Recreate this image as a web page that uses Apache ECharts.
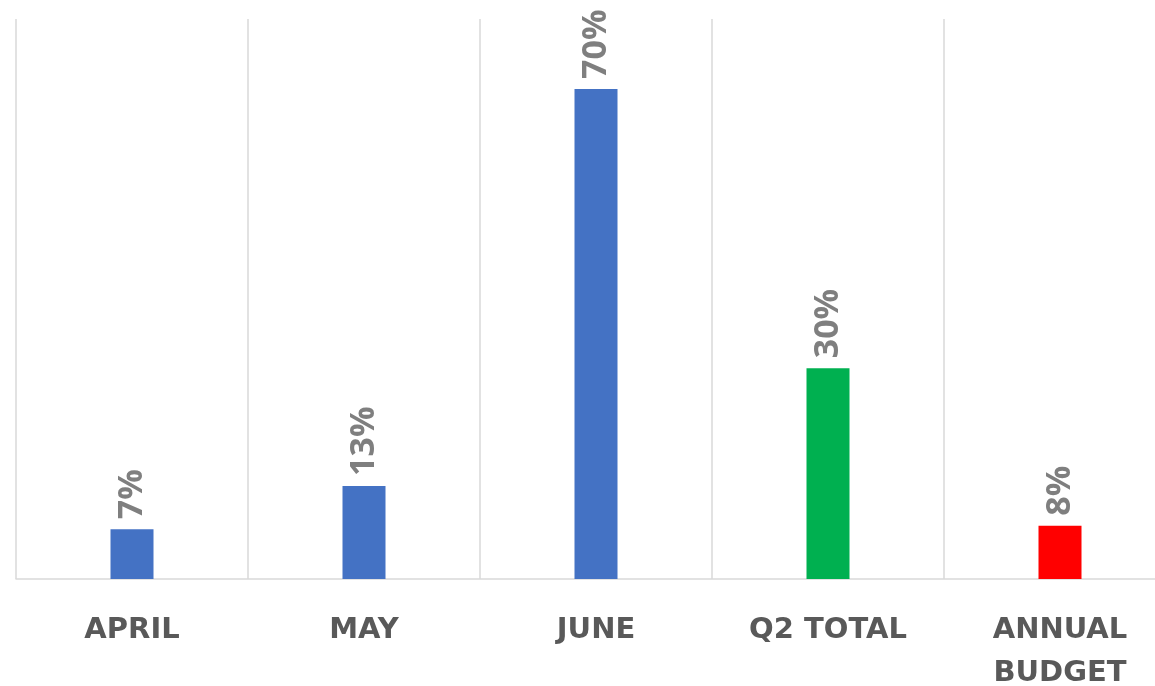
<!DOCTYPE html>
<html>
<head>
<meta charset="utf-8">
<script src="https://cdn.jsdelivr.net/npm/echarts@6/dist/echarts.min.js"></script>
<style>
  html, body { margin: 0; padding: 0; background: #fff; }
  #chart { width: 1155px; height: 686px; }
</style>
</head>
<body>
<div id="chart"></div>
<script>
// chart data
const categories = ['APRIL', 'MAY', 'JUNE', 'Q2 TOTAL', 'ANNUAL\nBUDGET']
const values = [7.1, 13.3, 70, 30.1, 7.6]   // percent
const barColors = ['#4472C4', '#4472C4', '#4472C4', '#00B050', '#FF0000']

let chart = echarts.init(document.getElementById('chart'))

chart.setOption({
  animation: false,
  grid: {
    left: 16,
    top: 19,
    width: 1160,
    height: 560,
    outerBoundsMode: 'none',
    containLabel: false
  },
  xAxis: {
    type: 'category',
    data: categories,
    axisLine: { lineStyle: { color: '#d9d9d9', width: 1.5 } },
    axisTick: { show: false },
    splitLine: {
      show: true,
      interval: 0,
      lineStyle: { color: '#d9d9d9', width: 1.5 }
    },
    axisLabel: {
      interval: 0,
      margin: 30,
      color: '#595959',
      fontFamily: 'DejaVu Sans',
      fontWeight: 'bold',
      fontSize: 29,
      lineHeight: 43
    }
  },
  yAxis: {
    type: 'value',
    min: 0,
    max: 80,
    show: false,
    splitLine: { show: false }
  },
  series: [
    {
      type: 'bar',
      barWidth: 43,
      data: values.map((v, i) => ({ value: v, itemStyle: { color: barColors[i] } })),
      label: {
        show: true,
        position: 'top',
        rotate: 90,
        align: 'left',
        verticalAlign: 'middle',
        distance: 10,
        color: '#7f7f7f',
        fontFamily: 'Open Sans',
        fontWeight: 'bold',
        fontSize: 34,
        formatter: p => Math.round(p.value) + '%'
      }
    }
  ]
})
</script>
</body>
</html>
